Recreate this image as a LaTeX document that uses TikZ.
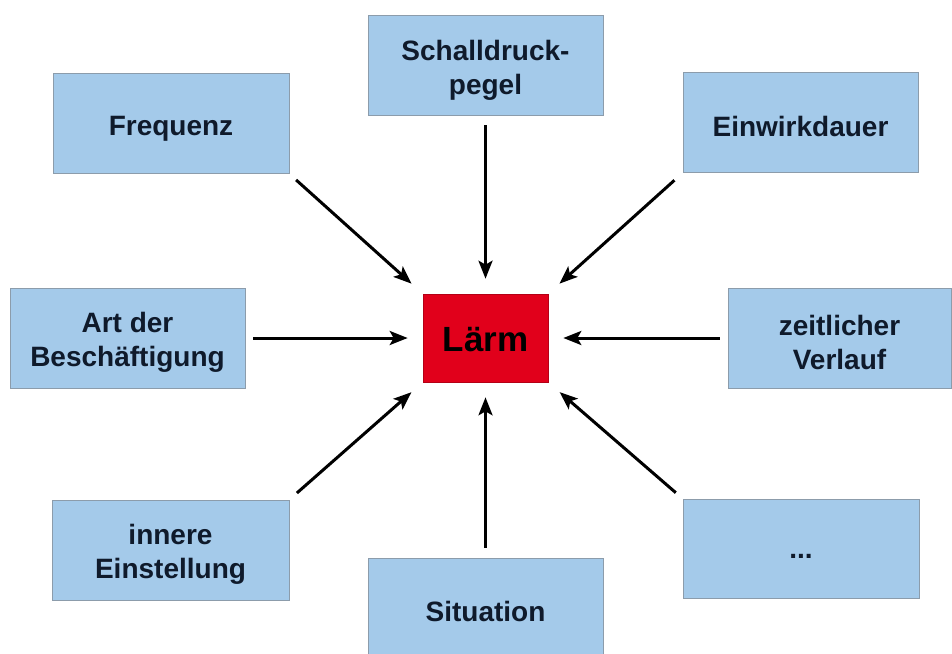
\documentclass[tikz,border=0pt]{standalone}
\usepackage{fontspec}
\setmainfont{Liberation Sans}
\usetikzlibrary{arrows.meta}
\definecolor{boxblue}{HTML}{A4CAEA}
\definecolor{boxline}{HTML}{8C9CAB}
\definecolor{txt}{HTML}{0F1A2B}
\definecolor{laermred}{HTML}{E1001B}
\begin{document}
\begin{tikzpicture}[x=1pt,y=-1pt,
  factor/.style={draw=boxline,line width=0.8pt,fill=boxblue,
    inner sep=0pt,minimum width=235pt,minimum height=100pt},
  ftext/.style={text=txt,font=\fontsize{28}{34}\selectfont\bfseries,
    align=center,inner sep=0pt},
  center/.style={draw=laermred!80!black,line width=0.6pt,fill=laermred,
    inner sep=0pt,minimum width=125pt,minimum height=88pt},
  ctext/.style={text=black,font=\fontsize{35}{40}\selectfont\bfseries,inner sep=0pt},
  arr/.style={line width=3pt,-{Stealth[length=18pt,width=14pt,inset=4pt]},shorten >=15pt}]
\useasboundingbox (0,0) rectangle (952,653);
\node[center] (laerm) at (485.5,338) {};
\node[ctext] (laermT) at ([yshift=-2pt]laerm.center) {Lärm};
\node[factor] (schall) at (485.5,65) {};
\node[ftext] (schallT) at ([yshift=-5pt]schall.center) {Schalldruck-\\pegel};
\node[factor,minimum width=236pt] (freq) at (171,123.5) {};
\node[ftext] (freqT) at ([yshift=-5pt]freq.center) {Frequenz};
\node[factor] (einw) at (800.5,122.5) {};
\node[ftext] (einwT) at ([yshift=-4pt]einw.center) {Einwirkdauer};
\node[factor] (art) at (127.5,338) {};
\node[ftext] (artT) at ([yshift=-4pt]art.center) {Art der\\Beschäftigung};
\node[factor,minimum width=223pt] (zeit) at (839.5,338) {};
\node[ftext] (zeitT) at ([yshift=-4pt]zeit.center) {zeitlicher\\Verlauf};
\node[factor,minimum width=237pt] (innere) at (170.5,550) {};
\node[ftext] (innereT) at ([yshift=-4pt]innere.center) {innere\\Einstellung};
\node[factor] (sit) at (485.5,608) {};
\node[ftext] (sitT) at ([yshift=-3pt]sit.center) {Situation};
\node[factor,minimum width=236pt,minimum height=99pt] (dots) at (801,548.5) {};
\node[ftext] (dotsT) at ([yshift=-8pt]dots.center) {...};
\draw[arr,shorten <=10pt] (schall.south) -- (laerm.north);
\draw[arr,shorten <=9pt] (freq.south east) -- (laerm.north west);
\draw[arr,shorten <=11pt] (einw.south west) -- (laerm.north east);
\draw[arr,shorten <=8pt] (art.east) -- (laerm.west);
\draw[arr,shorten <=8pt] (zeit.west) -- (laerm.east);
\draw[arr,shorten <=10pt] (innere.north east) -- (laerm.south west);
\draw[arr,shorten <=10pt] (sit.north) -- (laerm.south);
\draw[arr,shorten <=9pt] (dots.north west) -- (laerm.south east);
\end{tikzpicture}
\end{document}
